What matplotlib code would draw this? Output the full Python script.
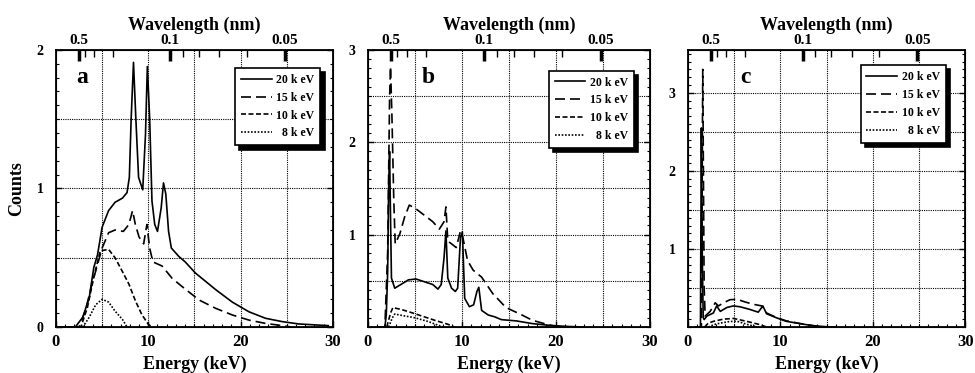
import matplotlib.pyplot as plt
import numpy as np
from matplotlib.ticker import MultipleLocator, FixedLocator

plt.rcParams['font.family'] = ['Liberation Serif', 'DejaVu Serif']
plt.rcParams['font.weight'] = 'bold'

# Données (énergie en keV, coups)
labels = ['20 k eV', '15 k eV', '10 k eV', '  8 k eV']

# panneau a
a20_e = [0, 2.1, 2.9, 3.6, 4.1, 4.5, 5.0, 5.7, 6.4, 7.2, 7.7, 7.95, 8.15, 8.4, 8.65, 8.95,
         9.4, 9.7, 9.9, 10.15, 10.4, 10.7, 11.0, 11.4, 11.65, 11.9, 12.2, 12.5, 13.3, 14.0,
         15.1, 17.3, 19.1, 20.9, 22.7, 24.5, 26.3, 29.5]
a20_c = [0, 0, 0.07, 0.21, 0.43, 0.52, 0.72, 0.84, 0.90, 0.93, 0.97, 1.08, 1.51, 1.91, 1.51,
         1.08, 0.99, 1.39, 1.88, 1.51, 0.91, 0.74, 0.69, 0.86, 1.04, 0.96, 0.69, 0.57, 0.51,
         0.47, 0.39, 0.27, 0.18, 0.11, 0.063, 0.039, 0.022, 0.01]
a15_e = [0, 2.5, 3.2, 3.9, 4.5, 5.0, 5.7, 6.4, 7.3, 7.9, 8.3, 8.6, 9.0, 9.5, 9.85, 10.15,
         10.5, 11.5, 12.6, 13.7, 15.5, 17.3, 19.1, 20.9, 22.7, 24.5, 25.5]
a15_c = [0, 0, 0.12, 0.31, 0.45, 0.57, 0.68, 0.70, 0.69, 0.74, 0.84, 0.74, 0.65, 0.60, 0.74,
         0.57, 0.47, 0.44, 0.35, 0.29, 0.195, 0.135, 0.087, 0.05, 0.026, 0.01, 0]
a10_e = [0, 2.7, 3.4, 4.1, 4.8, 5.7, 6.4, 7.2, 7.9, 8.6, 9.3, 10.0, 10.4]
a10_c = [0, 0, 0.14, 0.36, 0.55, 0.56, 0.50, 0.40, 0.31, 0.19, 0.09, 0.02, 0]
a8_e = [0, 2.9, 3.6, 4.3, 5.0, 5.7, 6.4, 7.2, 7.7]
a8_c = [0, 0, 0.07, 0.16, 0.20, 0.18, 0.115, 0.055, 0]

# panneau b
b20_e = [1.0, 1.8, 1.95, 2.1, 2.2, 2.3, 2.4, 2.5, 2.85, 3.5, 4.3, 5.1, 6.0, 6.9, 7.45, 7.8,
         8.1, 8.3, 8.5, 8.9, 9.3, 9.55, 9.85, 10.05, 10.3, 10.8, 11.25, 11.6, 11.8, 12.1,
         12.8, 13.5, 14.2, 15.8, 17.5, 19.3, 21.1, 22.9]
b20_c = [0, 0, 0.13, 0.6, 1.5, 1.9, 1.2, 0.53, 0.42, 0.46, 0.51, 0.52, 0.49, 0.46, 0.41,
         0.46, 0.75, 1.04, 0.53, 0.42, 0.385, 0.42, 0.97, 1.03, 0.31, 0.22, 0.24, 0.385,
         0.43, 0.18, 0.13, 0.11, 0.08, 0.066, 0.037, 0.018, 0.007, 0]
b15_e = [1.0, 1.8, 2.1, 2.3, 2.4, 2.55, 2.75, 2.9, 3.4, 3.9, 4.4, 5.1, 6.0, 6.9, 7.6, 8.1,
         8.3, 8.5, 8.9, 9.4, 9.85, 10.1, 10.6, 11.2, 12.1, 13.3, 14.7, 16.2, 17.5, 19.0,
         20.0, 21.1]
b15_c = [0, 0, 0.82, 2.47, 2.82, 2.29, 1.37, 0.90, 1.01, 1.19, 1.32, 1.28, 1.21, 1.14, 1.06,
         1.14, 1.30, 0.93, 0.90, 0.86, 1.04, 0.97, 0.72, 0.615, 0.54, 0.36, 0.21, 0.14,
         0.073, 0.03, 0.007, 0]
b10_e = [2.0, 2.4, 2.65, 3.55, 4.6, 5.7, 7.1, 8.5, 9.2]
b10_c = [0, 0.15, 0.21, 0.19, 0.157, 0.12, 0.073, 0.03, 0]
b8_e = [2.2, 2.6, 2.85, 3.9, 5.0, 6.4, 7.45, 8.0]
b8_c = [0, 0.1, 0.14, 0.12, 0.10, 0.06, 0.02, 0]

# panneau c
c20_e = [0.8, 1.35, 1.45, 1.55, 1.65, 1.75, 2.05, 2.75, 3.1, 3.5, 4.2, 4.9, 5.6, 6.7, 7.6,
         8.1, 8.5, 9.6, 10.6, 12.1, 13.5, 14.9, 16.0]
c20_c = [0, 0, 2.55, 0.9, 0.12, 0.095, 0.14, 0.18, 0.27, 0.20, 0.25, 0.27, 0.26, 0.225,
         0.19, 0.27, 0.17, 0.117, 0.074, 0.043, 0.017, 0.004, 0]
c15_e = [0.8, 1.45, 1.6, 1.75, 1.86, 2.4, 2.95, 3.3, 3.85, 4.55, 5.3, 6.2, 7.1, 8.0, 8.5,
         9.6, 10.6, 12.1, 13.5, 15.0]
c15_c = [0, 0, 3.3, 0.5, 0.14, 0.20, 0.31, 0.27, 0.31, 0.35, 0.355, 0.32, 0.29, 0.27, 0.18,
         0.12, 0.08, 0.045, 0.018, 0]
c10_e = [1.8, 2.2, 2.8, 3.8, 4.9, 6.3, 7.8, 8.5]
c10_c = [0, 0.05, 0.074, 0.10, 0.11, 0.074, 0.03, 0]
c8_e = [2.2, 2.8, 3.5, 4.5, 5.3, 6.5, 7.5]
c8_c = [0, 0.03, 0.05, 0.07, 0.074, 0.03, 0]

# axe du haut : longueurs d'onde (nm)
wl_major = [0.5, 0.1, 0.05]
wl_minor = [0.4, 0.3, 0.2, 0.09, 0.08, 0.07, 0.06]

styles = ['-', (0, (6, 3)), (0, (3, 1.5)), (0, (1, 1))]

panels = [
    ('a', [(a20_e, a20_c), (a15_e, a15_c), (a10_e, a10_c), (a8_e, a8_c)], 2.0, [0, 1, 2]),
    ('b', [(b20_e, b20_c), (b15_e, b15_c), (b10_e, b10_c), (b8_e, b8_c)], 3.0, [1, 2, 3]),
    ('c', [(c20_e, c20_c), (c15_e, c15_c), (c10_e, c10_c), (c8_e, c8_c)], 3.55, [1, 2, 3]),
]

fig = plt.figure(figsize=(9.75, 3.73), dpi=100)
lefts = [0.0574, 0.3774, 0.7056]
widths = [0.284, 0.289, 0.2845]
leg_anchor = [(0.955, 0.935), (0.945, 0.925), (0.93, 0.945)]

for i, (name, curves, ymax, yticks) in enumerate(panels):
    ax = fig.add_axes([lefts[i], 0.1233, widths[i], 0.743])
    for (e, c), ls, lab in zip(curves, styles, labels):
        ax.plot(e, c, color='black', linestyle=ls, linewidth=1.2, label=lab)

    ax.set_xlim(0, 30)
    ax.set_ylim(0, ymax)

    # grille pointillée
    for gx in np.arange(5, 30, 5):
        ax.axvline(gx, color='black', linestyle=(0, (1, 1)), linewidth=0.8, zorder=0)
    for gy in np.arange(0.5, ymax - 0.1, 0.5):
        ax.axhline(gy, color='black', linestyle=(0, (1, 1)), linewidth=0.8, zorder=0)

    ax.set_xticks([0, 10, 20, 30])
    ax.xaxis.set_minor_locator(MultipleLocator(1))
    ax.set_yticks(yticks)
    ax.yaxis.set_minor_locator(MultipleLocator(0.1))
    ax.tick_params(which='both', direction='in', top=False, right=True)
    ax.tick_params(axis='x', which='major', length=4, width=1, labelsize=12, pad=5)
    ax.tick_params(axis='y', which='major', length=4, width=1, labelsize=10, pad=9)
    ax.tick_params(which='minor', length=2.5, width=0.8)
    for s in ax.spines.values():
        s.set_linewidth(1.3)
    ax.set_xlabel('Energy (keV)', fontsize=13, fontweight='bold', labelpad=4)
    if name == 'a':
        ax.set_ylabel('Counts', fontsize=13, fontweight='bold', labelpad=8)

    ax.text(0.075 if name == 'a' else 0.19, 0.9, name, transform=ax.transAxes,
            fontsize=17, fontweight='bold', va='center')

    leg = ax.legend(loc='upper right', bbox_to_anchor=leg_anchor[i], fontsize=8.5,
                    frameon=True, fancybox=False, framealpha=1, edgecolor='black',
                    handlelength=2.6, handletextpad=0.4, labelspacing=0.5,
                    borderpad=0.5, borderaxespad=0,
                    shadow={'facecolor': 'black', 'edgecolor': 'black', 'alpha': 1,
                            'ox': 3, 'oy': -3})
    leg.get_frame().set_linewidth(1.2)

    top = ax.twiny()
    top.set_xlim(0, 30)
    top.xaxis.set_major_locator(FixedLocator([1.24 / w for w in wl_major]))
    top.set_xticklabels([str(w) for w in wl_major])
    top.xaxis.set_minor_locator(FixedLocator([1.24 / w for w in wl_minor]))
    top.tick_params(axis='x', which='major', direction='in', length=8, width=2.5,
                    labelsize=11, pad=2)
    top.tick_params(axis='x', which='minor', direction='in', length=5, width=1)
    top.set_xlabel('Wavelength (nm)', fontsize=13, fontweight='bold', labelpad=3)

fig.savefig('out.png', dpi=100)
